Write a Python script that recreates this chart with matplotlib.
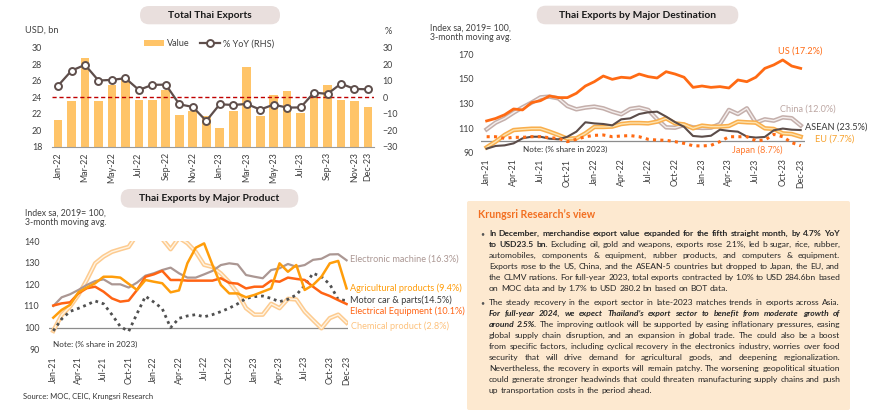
import matplotlib
matplotlib.use('Agg')
import matplotlib.pyplot as plt
from matplotlib.patches import FancyBboxPatch, Patch
from matplotlib.lines import Line2D
import matplotlib.patheffects as pe

plt.rcParams['font.family'] = ['Lato', 'DejaVu Sans']

FW, FH = 870, 419

# ---- data -------------------------------------------------------------
month_names = ['Jan', 'Feb', 'Mar', 'Apr', 'May', 'Jun',
               'Jul', 'Aug', 'Sep', 'Oct', 'Nov', 'Dec']
months_22_23 = [f'{m}-{y}' for y in ('22', '23') for m in month_names]
months_21_23 = [f'{m}-{y}' for y in ('21', '22', '23') for m in month_names]

# Total Thai exports (USD bn) and % YoY
export_value = [21.2, 23.5, 28.8, 23.5, 25.5, 26.2, 23.7, 23.7, 24.9, 21.8, 22.3, 21.7,
                20.3, 22.3, 27.6, 21.7, 24.3, 24.8, 22.1, 24.0, 25.5, 23.6, 23.5, 22.8]
export_yoy = [7.0, 16.1, 19.6, 10.1, 10.5, 11.5, 4.4, 7.5, 7.6, -4.3, -5.9, -14.4,
              -4.3, -4.7, -4.1, -7.5, -4.5, -6.3, -6.2, 2.8, 2.0, 8.2, 5.0, 4.8]

# Exports by destination (index sa, 2019=100, 3mma)
us = [116.0, 118.0, 121.0, 125.7, 124.9, 130.8, 132.4, 136.2, 134.9, 134.9, 138.4, 144.3,
      147.8, 152.4, 149.7, 151.4, 150.8, 154.0, 151.9, 150.8, 155.9, 154.0, 151.4, 143.2,
      144.3, 143.2, 143.8, 142.7, 149.2, 147.8, 151.4, 158.6, 161.4, 165.4, 160.5, 158.6]
china = [109.2, 114.6, 118.0, 122.7, 127.0, 130.8, 135.1, 135.7, 134.3, 128.1, 125.4, 126.8,
         127.6, 126.2, 123.5, 121.4, 125.7, 126.8, 124.9, 117.3, 110.8, 110.5, 112.7, 110.8,
         110.3, 110.5, 113.5, 124.9, 121.6, 126.2, 114.6, 117.3, 116.2, 118.9, 118.2, 112.3]
asean = [93.5, 95.7, 96.2, 97.8, 101.9, 103.2, 103.2, 101.6, 101.1, 103.2, 107.3, 114.9,
         114.0, 113.5, 112.4, 117.3, 118.1, 121.6, 123.0, 123.5, 119.5, 115.0, 111.2, 103.8,
         103.2, 104.0, 108.9, 107.9, 107.3, 103.3, 102.5, 103.0, 108.4, 109.8, 108.9, 108.6]
eu = [94.6, 99.2, 104.6, 108.6, 109.2, 109.7, 109.7, 107.3, 104.6, 101.6, 101.9, 105.9,
      111.1, 111.1, 111.4, 113.5, 114.3, 114.3, 114.0, 115.4, 118.1, 114.0, 113.2, 110.0,
      112.2, 111.4, 111.4, 111.9, 115.4, 114.9, 114.6, 110.0, 109.5, 105.9, 105.4, 103.2]
japan = [103.2, 103.2, 101.9, 102.7, 102.7, 103.2, 103.2, 102.4, 101.9, 99.2, 101.1, 103.2,
         104.3, 104.6, 103.2, 103.8, 104.1, 103.2, 101.1, 100.5, 100.3, 99.2, 97.8, 95.9,
         95.7, 96.2, 99.2, 103.2, 103.2, 103.2, 100.0, 100.5, 105.1, 103.2, 98.4, 95.9]

# Exports by product (index sa, 2019=100, 3mma)
electronic = [110.0, 114.0, 115.4, 117.4, 119.7, 121.5, 122.3, 120.0, 120.0, 118.5, 120.8, 124.0,
              125.1, 126.6, 127.7, 125.1, 123.1, 123.1, 124.6, 126.2, 128.9, 129.7, 129.2, 124.3,
              123.5, 122.8, 126.6, 127.4, 129.4, 128.1, 128.9, 131.3, 131.8, 133.8, 133.9, 131.1]
agri = [104.6, 108.2, 110.5, 116.3, 118.5, 120.5, 123.5, 123.5, 123.1, 120.2, 117.4, 122.0,
        121.2, 120.5, 116.3, 117.2, 129.7, 136.9, 138.9, 128.9, 119.7, 115.8, 115.8, 114.0,
        115.1, 116.6, 118.1, 129.7, 125.8, 128.9, 117.4, 119.7, 123.5, 129.7, 130.8, 118.1]
electrical = [110.2, 111.2, 111.7, 115.8, 118.2, 118.9, 116.6, 113.5, 112.0, 112.5, 117.4, 123.5,
              124.6, 126.2, 122.0, 122.0, 121.7, 121.7, 121.7, 121.7, 122.8, 120.7, 120.3, 118.1,
              118.9, 118.9, 121.7, 121.2, 123.1, 122.5, 122.0, 118.9, 116.1, 114.6, 112.7, 110.9]
motor = [98.5, 104.0, 107.5, 108.9, 110.5, 112.3, 111.0, 106.0, 100.5, 98.3, 106.5, 114.5,
         111.8, 108.8, 100.0, 104.3, 105.4, 106.0, 105.0, 106.0, 107.4, 109.0, 111.0, 113.5,
         114.3, 114.6, 113.5, 112.0, 113.1, 115.1, 119.5, 125.1, 123.5, 120.0, 113.0, 112.5]
chemical = [98.5, 105.8, 109.7, 115.1, 122.0, 129.7, 132.8, 135.0, 136.2, 137.3, 143.0, 150.0,
            150.0, 141.0, 136.2, 141.5, 139.0, 135.0, 129.0, 128.0, 125.0, 121.0, 116.0, 109.0,
            106.0, 106.0, 111.0, 109.0, 113.3, 113.0, 107.4, 103.5, 99.7, 104.4, 106.0, 102.3]

# ---- helpers ----------------------------------------------------------
fig = plt.figure(figsize=(8.7, 4.19), dpi=100)
fig.patch.set_facecolor('white')

TICK = '#404040'
LBL = 6.6


def rect(x0, y0, x1, y1):
    return [x0 / FW, 1 - y1 / FH, (x1 - x0) / FW, (y1 - y0) / FH]


def ftext(x, y, s, **kw):
    kw.setdefault('va', 'center')
    return fig.text(x / FW, 1 - y / FH, s, **kw)


def box(x0, y0, x1, y1, color, r):
    p = FancyBboxPatch((x0 / 100, (FH - y1) / 100), (x1 - x0) / 100, (y1 - y0) / 100,
                       boxstyle=f'round,pad=0,rounding_size={r}',
                       transform=fig.dpi_scale_trans, fc=color, ec='none', zorder=0)
    fig.add_artist(p)


def title_box(x0, y0, x1, y1, s):
    box(x0, y0, x1, y1, '#e9dfdd', 0.09)
    ftext((x0 + x1) / 2, (y0 + y1) / 2, s, ha='center', fontsize=7.4,
          fontweight='bold', color='#1a1a1a')


def clean(ax):
    for s in ax.spines.values():
        s.set_visible(False)
    ax.tick_params(length=0, labelsize=6.4, colors=TICK)
    ax.set_facecolor('none')


def double(color_out, color_in, w=3.2):
    return dict(color=color_in, lw=1.0,
                path_effects=[pe.Stroke(linewidth=w, foreground=color_out), pe.Normal()])


# ---- Total Thai Exports -----------------------------------------------
title_box(140, 6, 280, 24.3, 'Total Thai Exports')
ax1 = fig.add_axes(rect(52, 47.7, 374, 146.7))
clean(ax1)
xs = range(len(months_22_23))
ax1.bar(xs, export_value, width=0.65, color='#ffc468', zorder=1)
ax1.set_ylim(18, 30)
ax1.set_yticks(range(18, 31, 2))
ax1.set_xlim(-0.45, 23.45)
tk = list(range(0, 24, 2)) + [23]
ax1.set_xticks(tk)
ax1.set_xticklabels([months_22_23[i] for i in tk], rotation=90)
ax1.spines['bottom'].set_visible(True)
ax1.spines['bottom'].set_color('#9a9a9a')
ax1.tick_params(axis='y', pad=7)
ax1.tick_params(axis='x', pad=4)

ax2 = ax1.twinx()
clean(ax2)
ax2.axhline(0, color='#c00000', lw=1.0, dashes=(3, 2), zorder=1)
ax2.plot(xs, export_yoy, color='#5e4e4b', lw=1.6, marker='o', ms=5,
         mfc='white', mec='#5e4e4b', mew=1.4, zorder=3)
ax2.set_ylim(-30, 30)
ax2.set_yticks(range(-30, 31, 10))
ax2.tick_params(axis='y', pad=6)

ftext(25, 30, 'USD, bn', fontsize=LBL, color=TICK)
ftext(385, 32, '%', fontsize=LBL, color=TICK)
fig.legend(handles=[Patch(fc='#ffc468', ec='none'),
                    Line2D([], [], color='#5e4e4b', lw=1.6, marker='o', ms=5,
                           mfc='white', mew=1.4)],
           labels=['Value', '% YoY (RHS)'], loc='center', ncol=2, frameon=False,
           bbox_to_anchor=(209 / FW, 1 - 44 / FH), fontsize=LBL, handlelength=2.2,
           columnspacing=1.2, handletextpad=0.3, labelcolor=TICK)

# ---- Thai Exports by Major Destination --------------------------------
title_box(536.7, 5.7, 738.3, 24.3, 'Thai Exports by Major Destination')
ftext(430, 28.3, 'Index sa, 2019= 100,', fontsize=6.3, color=TICK)
ftext(430, 37.7, '3-month moving avg.', fontsize=6.3, color=TICK)
ax3 = fig.add_axes(rect(481, 54.3, 805, 153))
clean(ax3)
xd = range(len(months_21_23))
ax3.axhline(100, color='#8c8c8c', lw=0.9, zorder=1)
ax3.plot(xd, china, **double('#c4afab', '#f4eeed'), zorder=2)
ax3.plot(xd, eu, **double('#f9ae4c', '#fde3b0'), zorder=2)
ax3.plot(xd, asean, color='#5b4c49', lw=1.5, zorder=3)
ax3.plot(xd, japan, color='#ff6a13', lw=2.2, ls=(0, (1, 1.4)), zorder=3)
ax3.plot(xd, us, color='#ff6a13', lw=2.0, zorder=4)
ax3.set_ylim(90, 170)
ax3.set_yticks(range(90, 171, 20))
ax3.set_xlim(-0.63, 35.48)
tk3 = list(range(0, 36, 3)) + [35]
ax3.set_xticks(tk3)
ax3.set_xticklabels([months_21_23[i] for i in tk3], rotation=90)
ax3.tick_params(axis='y', pad=5)
ax3.tick_params(axis='x', pad=4)

ftext(778, 51, 'US (17.2%)', fontsize=LBL, color='#ff6a13')
ftext(780, 109, 'China (12.0%)', fontsize=LBL, color='#bca6a2')
ftext(805, 127, 'ASEAN (23.5%)', fontsize=LBL, color='#3a3a3a')
ftext(815, 139, 'EU (7.7%)', fontsize=LBL, color='#f7a12c')
ftext(732, 150, 'Japan (8.7%)', fontsize=LBL, color='#ff7a2e')
ftext(523, 149, 'Note: (% share in 2023)', fontsize=5.9, color='#333333')

# ---- Thai Exports by Major Product ------------------------------------
title_box(120.7, 189, 298.3, 207.7, 'Thai Exports by Major Product')
ftext(25, 213.3, 'Index sa, 2019= 100,', fontsize=6.3, color=TICK)
ftext(25, 222.7, '3-month moving avg.', fontsize=6.3, color=TICK)
ax4 = fig.add_axes(rect(49, 241, 348, 349.3))
clean(ax4)
ax4.axhline(100, color='#8c8c8c', lw=0.9, zorder=1)
ax4.plot(xd, chemical, **double('#fdcb90', '#fff4e3'), zorder=2)
ax4.plot(xd, electronic, color='#ab9793', lw=1.6, zorder=3)
ax4.plot(xd, motor, color='#505050', lw=2.0, ls=(0, (1, 1.4)), zorder=3)
ax4.plot(xd, electrical, color='#ff6414', lw=1.8, zorder=4)
ax4.plot(xd, agri, color='#ff9d0a', lw=1.8, zorder=4)
ax4.set_ylim(90, 140)
ax4.set_yticks(range(90, 141, 10))
ax4.set_xlim(-0.51, 35.17)
ax4.set_xticks(tk3)
ax4.set_xticklabels([months_21_23[i] for i in tk3], rotation=90)
ax4.tick_params(axis='y', pad=7)
ax4.tick_params(axis='x', pad=5)

ftext(350, 259, 'Electronic machine (16.3%)', fontsize=LBL, color='#ab9793')
ftext(350, 288, 'Agricultural products (9.4%)', fontsize=LBL, color='#ff9d0a')
ftext(350, 300, 'Motor car & parts(14.5%)', fontsize=LBL, color='#3a3a3a')
ftext(350, 311, 'Electrical Equipment (10.1%)', fontsize=LBL, color='#ff6414')
ftext(351, 326, 'Chemical product (2.8%)', fontsize=LBL, color='#fdc27e')
ftext(53, 344, 'Note: (% share in 2023)', fontsize=5.9, color='#333333')
ftext(23, 396, 'Source: MOC, CEIC, Krungsri Research', fontsize=5.5, color='#333333')

# ---- Krungsri Research's view -----------------------------------------
box(467, 201, 850, 410, '#fde9d0', 0.02)
ftext(478, 214.3, 'Krungsri Research\u2019s view', fontsize=7.6, fontweight='bold',
      color='#f26f21')

B, N, BI = ('bold', 'normal'), ('normal', 'normal'), ('bold', 'italic')
bullet1 = [
    [('In December, merchandise export value expanded for the fifth straight month, by 4.7% YoY', B)],
    [('to USD23.5 bn.', B), ('Excluding oil, gold and weapons, exports rose 2.1%, led b sugar, rice, rubber,', N)],
    [('automobiles, components & equipment, rubber products, and computers & equipment.', N)],
    [('Exports rose to the US, China, and the ASEAN-5 countries but dropped to Japan, the EU, and', N)],
    [('the CLMV nations. For full-year 2023, total exports contracted by 1.0% to USD 284.6bn based', N)],
    [('on MOC data and by 1.7% to USD 280.2 bn based on BOT data.', N)],
]
bullet2 = [
    [('The steady recovery in the export sector in late-2023 matches trends in exports across Asia.', N)],
    [('For full-year 2024, we expect Thailand\u2019s export sector to benefit from moderate growth of', BI)],
    [('around 2.5%.', BI), ('The improving outlook will be supported by easing inflationary pressures, easing', N)],
    [('global supply chain disruption, and an expansion in global trade. The could also be a boost', N)],
    [('from specific factors, including cyclical recovery in the electronics industry, worries over food', N)],
    [('security that will drive demand for agricultural goods, and deepening regionalization.', N)],
    [('Nevertheless, the recovery in exports will remain patchy. The worsening geopolitical situation', N)],
    [('could generate stronger headwinds that could threaten manufacturing supply chains and push', N)],
    [('up transportation costs in the period ahead.', N)],
]

renderer = fig.canvas.get_renderer()


def width(s, st, size):
    t = fig.text(0, 0, s, fontsize=size, fontweight=st[0], fontstyle=st[1])
    w = t.get_window_extent(renderer).width
    t.remove()
    return w


def words_of(line):
    return [(w, st) for s, st in line for w in s.split()]


X0, X1 = 489, 840
base = 6.0
space = width('x x', N, base) - width('xx', N, base)
natural = max(sum(width(w, st, base) for w, st in words_of(ln)) + space * 0.8 * (len(words_of(ln)) - 1)
              for ln in bullet1 + bullet2)
BODY = min(6.6, base * (X1 - X0) / natural * 0.995)
space = width('x x', N, BODY) - width('xx', N, BODY)


def paragraph(lines, y0, dy=11.0):
    ftext(480, y0, '\u2022', fontsize=5, color='#555555')
    for k, ln in enumerate(lines):
        ws = words_of(ln)
        wd = [width(w, st, BODY) for w, st in ws]
        last = k == len(lines) - 1
        gap = space if last else (X1 - X0 - sum(wd)) / (len(ws) - 1)
        x = X0
        for (w, st), ww in zip(ws, wd):
            ftext(x, y0 + k * dy, w, fontsize=BODY, fontweight=st[0], fontstyle=st[1],
                  color='#262626')
            x += ww + gap


paragraph(bullet1, 233.3)
paragraph(bullet2, 302.5)

fig.savefig('out.png', dpi=100, facecolor='white')
